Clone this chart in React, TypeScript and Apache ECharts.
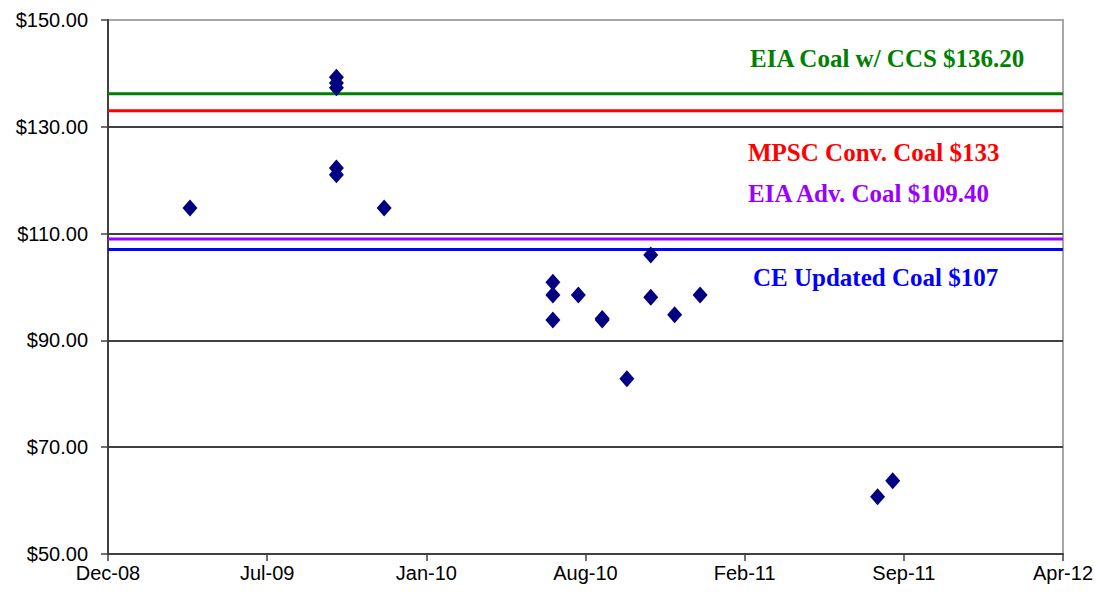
import React, { useEffect, useRef } from "react";
import * as echarts from "echarts";

// Scatter observations (date, $/MWh)
const pointDates = [
  "2009-03-31",
  "2009-10-01", "2009-10-01", "2009-10-01", "2009-10-01", "2009-10-01",
  "2009-11-30",
  "2010-06-30", "2010-06-30", "2010-06-30",
  "2010-08-01",
  "2010-08-31", "2010-08-31",
  "2010-10-01",
  "2010-10-31", "2010-10-31",
  "2010-11-30",
  "2011-01-01",
  "2011-08-12", "2011-08-31",
];
const pointValues = [
  114.8,
  139.3, 138.2, 137.3, 122.3, 121.0,
  114.8,
  100.9, 98.5, 93.8,
  98.5,
  94.1, 93.8,
  82.8,
  106.0, 98.1,
  94.8,
  98.5,
  60.7, 63.7,
];

// Reference cost lines
const refNames = ["EIA Coal w/ CCS", "MPSC Conv. Coal", "EIA Adv. Coal", "CE Updated Coal"];
const refValues = [136.2, 133, 109.0, 107];
const refLabels = ["EIA Coal w/ CCS $136.20", "MPSC Conv. Coal $133", "EIA Adv. Coal $109.40", "CE Updated Coal $107"];

// Axis ranges (x as Excel date serials)
const xMin = 39800; // Dec-08
const xMax = 41000; // Apr-12
const xStep = 200;
const yMin = 50;
const yMax = 150;
const yStep = 20;

const MONTHS = ["Jan", "Feb", "Mar", "Apr", "May", "Jun", "Jul", "Aug", "Sep", "Oct", "Nov", "Dec"];
const EPOCH = Date.UTC(1899, 11, 30);
const toSerial = (s: string) => {
  const [y, m, d] = s.split("-").map(Number);
  return Math.round((Date.UTC(y, m - 1, d) - EPOCH) / 86400000);
};
const fmtSerial = (v: number) => {
  const dt = new Date(EPOCH + v * 86400000);
  return MONTHS[dt.getUTCMonth()] + "-" + String(dt.getUTCFullYear() % 100).padStart(2, "0");
};

const refColors = ["#008000", "#ff0000", "#9900ff", "#0000ff"];
const labelPos = [
  [750, 58],
  [748, 152],
  [748, 193],
  [753, 277],
];

export default function App() {
  const ref = useRef<HTMLDivElement>(null);
  useEffect(() => {
    if (!ref.current) return;
    const chart = echarts.init(ref.current, null, { renderer: "svg" });
    const scatterData = pointDates.map((d, i) => [toSerial(d), pointValues[i]]);
    const lineSeries = refValues.map((v, i) => ({
      name: refNames[i],
      type: "line",
      data: [[xMin, v], [xMax, v]],
      symbol: "none",
      lineStyle: { color: refColors[i], width: 3 },
      z: 3,
    }));
    chart.setOption({
      animation: false,
      backgroundColor: "#ffffff",
      grid: {
        left: 108,
        right: 37,
        top: 20,
        bottom: 40,
        show: true,
        borderColor: "#a6a6a6",
        borderWidth: 2,
        backgroundColor: "transparent",
      },
      xAxis: {
        type: "value",
        min: xMin,
        max: xMax,
        interval: xStep,
        axisLine: { show: true, onZero: false, lineStyle: { color: "#404040", width: 2 } },
        axisTick: { show: true, inside: false, length: 7, lineStyle: { color: "#404040", width: 1.5 } },
        axisLabel: {
          formatter: (v: number) => fmtSerial(v),
          color: "#000",
          fontFamily: "Liberation Sans",
          fontSize: 20,
          margin: 9,
        },
        splitLine: { show: false },
      },
      yAxis: {
        type: "value",
        min: yMin,
        max: yMax,
        interval: yStep,
        axisLine: { show: true, lineStyle: { color: "#404040", width: 2 } },
        axisTick: { show: true, inside: false, length: 7, lineStyle: { color: "#404040", width: 1.5 } },
        axisLabel: {
          formatter: (v: number) => "$" + v.toFixed(2),
          color: "#000",
          fontFamily: "Liberation Sans",
          fontSize: 20,
          margin: 20,
        },
        splitLine: {
          show: true,
          showMinLine: false,
          showMaxLine: false,
          lineStyle: { color: "#404040", width: 2 },
        },
      },
      series: [
        ...lineSeries,
        {
          name: "Observations",
          type: "scatter",
          data: scatterData,
          symbol: "diamond",
          symbolSize: [15, 17],
          itemStyle: { color: "#000080", opacity: 1 },
          z: 5,
        },
      ],
      graphic: refLabels.map((t, i) => ({
        type: "text",
        x: labelPos[i][0],
        y: labelPos[i][1],
        style: {
          text: t,
          fill: refColors[i],
          font: "bold 25px 'Liberation Serif'",
          textVerticalAlign: "middle",
          verticalAlign: "middle",
        },
        z: 10,
      })),
    });
    return () => chart.dispose();
  }, []);
  return (
    <div
      ref={ref}
      style={{ position: "absolute", left: 0, top: 0, width: 1100, height: 594 }}
    />
  );
}
